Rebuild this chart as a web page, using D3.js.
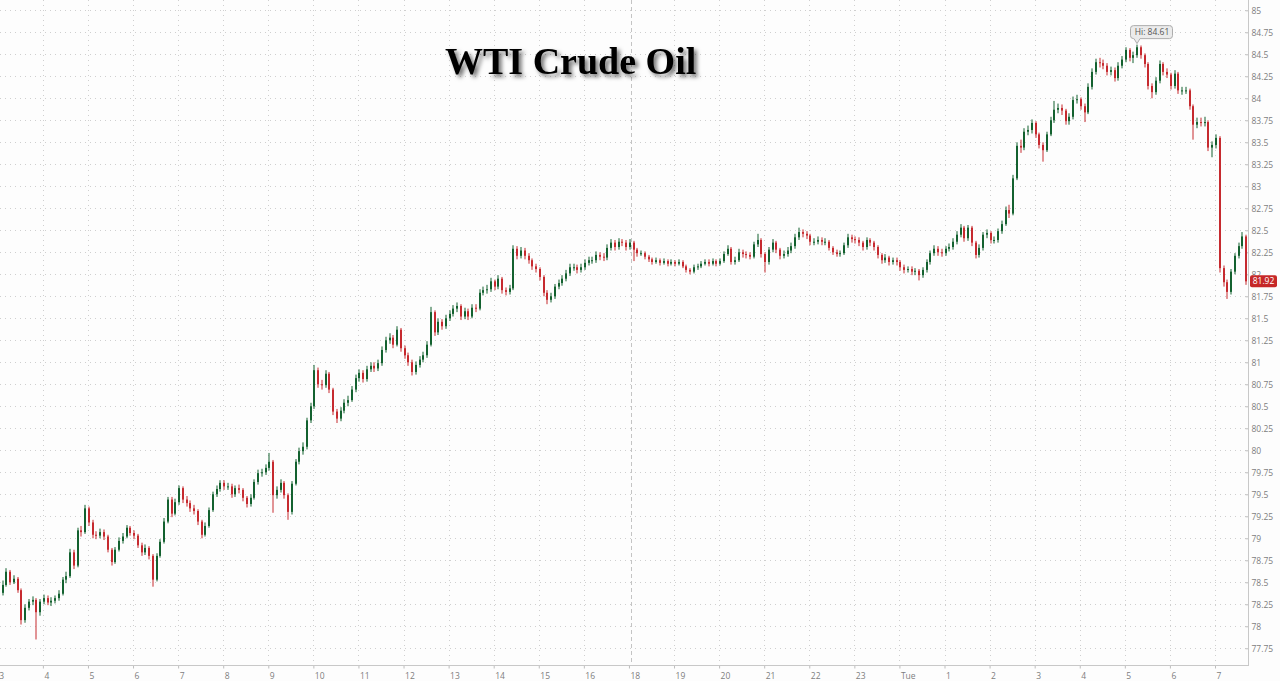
<!DOCTYPE html>
<html><head><meta charset="utf-8">
<script src="https://cdn.jsdelivr.net/npm/d3@7/dist/d3.min.js"></script>
<style>html,body{margin:0;padding:0;background:#fdfdfd;overflow:hidden}</style>
</head><body><svg id="c" width="1280" height="681"></svg>
<script>
// ---- data ----
const title = "WTI Crude Oil";
const xTickLabels = ["3","4","5","6","7","8","9","10","11","12","13","14","15","16","18","19","20","21","22","23","Tue","1","2","3","4","5","6","7"];
const sessionBreakLabel = "18";
const yTicks = [77.75,78,78.25,78.5,78.75,79,79.25,79.5,79.75,80,80.25,80.5,80.75,81,81.25,81.5,81.75,82,82.25,82.5,82.75,83,83.25,83.5,83.75,84,84.25,84.5,84.75,85];
const candlesPerHour = 12; // 5-minute candles
const firstOpen = 78.38;
const closes = [
78.47,78.62,78.50,78.54,78.41,78.07,78.21,78.28,78.30,78.16,78.28,78.32,
78.27,78.29,78.32,78.37,78.53,78.57,78.84,78.69,79.09,79.07,79.34,79.18,
79.04,79.03,79.07,79.02,78.87,78.73,78.87,78.97,79.02,79.12,79.06,79.03,
78.92,78.84,78.89,78.80,78.53,78.80,78.96,79.19,79.44,79.28,79.41,79.57,
79.44,79.40,79.34,79.31,79.19,79.04,79.14,79.32,79.50,79.56,79.63,79.59,
79.59,79.50,79.57,79.55,79.46,79.39,79.46,79.64,79.74,79.75,79.80,79.87,
79.49,79.55,79.63,79.49,79.30,79.62,79.87,79.99,80.04,80.34,80.50,80.91,
80.75,80.74,80.87,80.69,80.44,80.36,80.45,80.54,80.57,80.69,80.82,80.88,
80.81,80.92,80.96,80.93,80.99,81.14,81.25,81.28,81.20,81.37,81.16,81.08,
81.00,80.89,80.97,81.03,81.08,81.20,81.57,81.34,81.46,81.41,81.50,81.55,
81.61,81.64,81.52,81.58,81.52,81.62,81.61,81.79,81.82,81.83,81.92,81.86,
81.95,81.82,81.80,81.84,82.29,82.21,82.27,82.21,82.16,82.09,82.06,81.97,
81.79,81.71,81.75,81.86,81.90,81.95,82.01,82.08,82.08,82.05,82.08,82.13,
82.16,82.16,82.22,82.20,82.19,82.30,82.36,82.31,82.37,82.36,82.31,82.36,
82.28,82.24,82.24,82.20,82.17,82.14,82.16,82.13,82.15,82.12,82.14,82.12,
82.14,82.09,82.05,82.03,82.08,82.09,82.12,82.14,82.12,82.15,82.12,82.15,
82.23,82.29,82.14,82.16,82.25,82.23,82.22,82.20,82.34,82.39,82.23,82.14,
82.28,82.36,82.28,82.21,82.23,82.27,82.32,82.42,82.48,82.46,82.44,82.37,
82.37,82.39,82.37,82.37,82.30,82.25,82.23,82.24,82.33,82.42,82.40,82.39,
82.36,82.31,82.39,82.36,82.31,82.22,82.16,82.19,82.14,82.16,82.14,82.08,
82.05,82.06,82.03,82.04,81.99,82.05,82.14,82.24,82.29,82.25,82.24,82.29,
82.31,82.37,82.45,82.53,82.41,82.53,82.36,82.22,82.30,82.45,82.47,82.39,
82.39,82.49,82.57,82.73,82.69,83.09,83.46,83.44,83.62,83.64,83.72,83.59,
83.47,83.41,83.59,83.75,83.87,83.89,83.86,83.74,83.79,83.98,83.99,83.91,
83.84,84.13,84.30,84.41,84.40,84.37,84.30,84.32,84.23,84.37,84.44,84.55,
84.46,84.49,84.58,84.49,84.39,84.14,84.07,84.20,84.39,84.30,84.27,84.14,
84.28,84.09,84.09,84.09,83.91,83.70,83.73,83.72,83.73,83.44,83.47,83.55,
82.07,81.91,81.80,82.03,82.21,82.32,82.43,81.92
];
const highs = [
78.52,78.66,78.64,78.58,78.56,78.43,78.25,78.31,78.34,78.32,78.31,78.36,
78.35,78.33,78.35,78.41,78.56,78.62,78.88,78.87,79.12,79.14,79.38,79.36,
79.21,79.08,79.11,79.10,79.04,78.89,78.90,79.01,79.06,79.15,79.14,79.09,
79.05,78.95,78.93,78.91,78.82,78.83,78.99,79.23,79.47,79.47,79.45,79.60,
79.59,79.48,79.43,79.38,79.33,79.21,79.18,79.35,79.53,79.60,79.66,79.66,
79.63,79.62,79.60,79.61,79.57,79.48,79.50,79.67,79.78,79.79,79.84,79.97,
79.89,79.59,79.67,79.65,79.51,79.65,79.90,80.03,80.09,80.37,80.54,80.97,
80.94,80.80,80.91,80.89,80.71,80.47,80.49,80.58,80.62,80.73,80.86,80.92,
80.91,80.96,81.00,81.00,81.03,81.18,81.29,81.33,81.31,81.41,81.39,81.19,
81.11,81.03,81.01,81.07,81.12,81.24,81.63,81.59,81.50,81.49,81.54,81.59,
81.65,81.68,81.66,81.62,81.61,81.66,81.66,81.83,81.86,81.88,81.96,81.94,
81.99,81.97,81.85,81.88,82.33,82.32,82.31,82.30,82.24,82.18,82.12,82.08,
81.99,81.82,81.79,81.89,81.94,81.99,82.05,82.12,82.12,82.11,82.12,82.17,
82.20,82.20,82.26,82.25,82.24,82.34,82.40,82.39,82.41,82.40,82.39,82.40,
82.38,82.30,82.27,82.26,82.22,82.19,82.19,82.18,82.18,82.17,82.17,82.16,
82.17,82.16,82.11,82.07,82.11,82.12,82.15,82.17,82.17,82.18,82.17,82.18,
82.26,82.33,82.31,82.20,82.29,82.28,82.26,82.25,82.37,82.46,82.41,82.25,
82.31,82.40,82.38,82.30,82.27,82.31,82.36,82.46,82.53,82.51,82.49,82.46,
82.41,82.43,82.42,82.41,82.39,82.32,82.28,82.27,82.36,82.46,82.45,82.43,
82.42,82.38,82.42,82.41,82.38,82.33,82.24,82.23,82.21,82.19,82.19,82.16,
82.11,82.09,82.09,82.07,82.06,82.08,82.17,82.27,82.33,82.32,82.29,82.32,
82.35,82.41,82.49,82.57,82.55,82.56,82.55,82.38,82.34,82.48,82.51,82.49,
82.43,82.52,82.61,82.77,82.79,83.13,83.50,83.53,83.66,83.69,83.76,83.74,
83.61,83.50,83.62,83.79,83.97,83.94,83.93,83.88,83.83,84.02,84.04,84.01,
83.94,84.17,84.34,84.45,84.46,84.44,84.40,84.36,84.35,84.41,84.48,84.58,
84.57,84.53,84.61,84.60,84.51,84.41,84.17,84.24,84.43,84.41,84.34,84.29,
84.32,84.30,84.13,84.13,84.11,83.93,83.78,83.78,83.79,83.75,83.51,83.59,
83.57,82.10,81.94,82.06,82.24,82.36,82.48,82.45
];
const lows = [
78.35,78.45,78.47,78.48,78.38,78.02,78.04,78.18,78.24,77.85,78.12,78.25,
78.24,78.23,78.26,78.29,78.35,78.49,78.55,78.65,78.67,79.02,79.05,79.14,
79.00,78.99,79.00,78.98,78.84,78.69,78.71,78.85,78.94,79.00,79.03,78.99,
78.89,78.80,78.81,78.76,78.45,78.51,78.78,78.94,79.17,79.24,79.26,79.38,
79.40,79.36,79.30,79.27,79.15,79.00,79.02,79.12,79.30,79.47,79.53,79.55,
79.55,79.46,79.47,79.51,79.42,79.35,79.36,79.44,79.61,79.70,79.72,79.77,
79.29,79.45,79.52,79.45,79.21,79.27,79.60,79.84,79.95,80.01,80.31,80.47,
80.71,80.69,80.71,80.65,80.40,80.31,80.33,80.42,80.50,80.55,80.66,80.78,
80.77,80.78,80.89,80.89,80.90,80.96,81.11,81.21,81.16,81.18,81.12,81.04,
80.96,80.85,80.86,80.94,81.00,81.05,81.18,81.30,81.31,81.37,81.38,81.47,
81.52,81.57,81.48,81.49,81.48,81.50,81.57,81.59,81.76,81.78,81.80,81.82,
81.83,81.78,81.76,81.77,81.82,82.17,82.18,82.17,82.12,82.05,82.02,81.93,
81.75,81.66,81.68,81.72,81.83,81.87,81.92,81.98,82.04,82.01,82.02,82.05,
82.10,82.12,82.13,82.16,82.15,82.16,82.27,82.27,82.28,82.32,82.27,82.28,
82.15,82.20,82.21,82.17,82.14,82.11,82.12,82.10,82.11,82.09,82.10,82.09,
82.10,82.07,82.02,82.00,82.01,82.05,82.07,82.10,82.09,82.10,82.09,82.10,
82.13,82.21,82.11,82.11,82.14,82.19,82.18,82.17,82.18,82.31,82.19,82.02,
82.11,82.25,82.24,82.17,82.18,82.20,82.24,82.29,82.39,82.42,82.40,82.33,
82.33,82.34,82.33,82.33,82.27,82.22,82.20,82.20,82.22,82.30,82.36,82.35,
82.32,82.27,82.28,82.32,82.27,82.18,82.12,82.13,82.10,82.11,82.10,82.04,
82.01,82.02,81.99,81.99,81.93,81.96,82.02,82.11,82.21,82.21,82.20,82.21,
82.26,82.28,82.34,82.42,82.37,82.38,82.32,82.18,82.19,82.27,82.41,82.35,
82.35,82.36,82.46,82.55,82.64,82.67,83.07,83.38,83.41,83.58,83.60,83.55,
83.43,83.28,83.39,83.57,83.72,83.83,83.81,83.70,83.70,83.76,83.94,83.87,
83.73,83.82,84.10,84.27,84.35,84.33,84.26,84.26,84.19,84.20,84.34,84.41,
84.42,84.40,84.46,84.45,84.35,84.10,84.00,84.04,84.17,84.26,84.23,84.10,
84.11,84.05,84.04,84.05,83.87,83.53,83.66,83.68,83.68,83.40,83.33,83.43,
82.02,81.86,81.72,81.77,82.00,82.18,82.29,81.88
];

// ---- layout ----
const W = 1280, H = 681;
const plotRight = 1248, plotBottom = 665;
const upColor = "#13612f", downColor = "#c62a2f";
const axisFont = "'Open Sans', 'Noto Sans', sans-serif";

const svg = d3.select("#c");
svg.append("rect").attr("width", W).attr("height", H).attr("fill", "#fdfdfd");

const x = d3.scaleLinear().domain([0, xTickLabels.length - 1]).range([-2.2, 1215]);
const y = d3.scaleLinear().domain([77.56, 85.117]).range([plotBottom, 0]);

const candles = closes.map((c, i) => ({
  t: (i + 1) / candlesPerHour,
  o: i === 0 ? firstOpen : closes[i - 1],
  c: c, h: highs[i], l: lows[i]
}));

// grid
const grid = svg.append("g");
grid.selectAll("line.h").data(yTicks).join("line")
  .attr("x1", 0).attr("x2", plotRight)
  .attr("y1", d => Math.round(y(d)) + 0.5).attr("y2", d => Math.round(y(d)) + 0.5)
  .attr("stroke", "#cfcfcf").attr("stroke-dasharray", "1,4");
const xTickIdx = xTickLabels.map((d, i) => i);
const brk = xTickLabels.indexOf(sessionBreakLabel);
grid.selectAll("line.v").data(xTickIdx.filter(i => i !== brk)).join("line")
  .attr("x1", d => Math.round(x(d)) + 0.5).attr("x2", d => Math.round(x(d)) + 0.5)
  .attr("y1", 0).attr("y2", plotBottom)
  .attr("stroke", "#cfcfcf").attr("stroke-dasharray", "1,4");
// session break dashed line
svg.append("line")
  .attr("x1", Math.round(x(brk)) + 2.5).attr("x2", Math.round(x(brk)) + 2.5)
  .attr("y1", 0).attr("y2", plotBottom)
  .attr("stroke", "#c4c4c4").attr("stroke-dasharray", "4,3");

// axes
const yAxis = d3.axisRight(y).tickValues(yTicks).tickSize(-3).tickPadding(3).tickFormat(d => String(d));
const gy = svg.append("g").attr("transform", `translate(${plotRight + 0.5},0)`).call(yAxis);
gy.select(".domain").remove();
gy.selectAll(".tick line").attr("stroke", "#bdbdbd");
gy.selectAll(".tick text").attr("fill", "#7d7d7d").style("font-family", axisFont).style("font-size", "8.5px");
svg.append("line").attr("x1", plotRight + 0.5).attr("x2", plotRight + 0.5).attr("y1", 0).attr("y2", plotBottom + 1)
  .attr("stroke", "#c8c8c8");

const xAxis = d3.axisBottom(x).tickValues(xTickIdx).tickSize(3).tickPadding(4).tickFormat(i => xTickLabels[i]);
const gx = svg.append("g").attr("transform", `translate(0,${plotBottom + 0.5})`).call(xAxis);
gx.select(".domain").remove();
gx.selectAll(".tick line").attr("stroke", "#bdbdbd");
gx.selectAll(".tick text").attr("fill", "#7d7d7d").attr("text-anchor", "start").attr("x", 1)
  .style("font-family", axisFont).style("font-size", "8.5px");
svg.append("line").attr("x1", 0).attr("x2", plotRight + 1).attr("y1", plotBottom + 0.5).attr("y2", plotBottom + 0.5)
  .attr("stroke", "#c8c8c8");

// candles
svg.append("clipPath").attr("id", "clip").append("rect").attr("x", 0).attr("y", 0).attr("width", plotRight).attr("height", plotBottom);
const cg = svg.append("g").attr("clip-path", "url(#clip)");
const col = d => d.c >= d.o ? upColor : downColor;
cg.selectAll("line.w").data(candles).join("line")
  .attr("x1", d => Math.round(x(d.t)) + 1).attr("x2", d => Math.round(x(d.t)) + 1)
  .attr("y1", d => y(d.h)).attr("y2", d => y(d.l))
  .attr("stroke", col).attr("stroke-width", 1);
cg.selectAll("rect.b").data(candles).join("rect")
  .attr("x", d => Math.round(x(d.t))).attr("width", 2)
  .attr("y", d => y(Math.max(d.o, d.c)))
  .attr("height", d => Math.max(1, Math.abs(y(d.o) - y(d.c))))
  .attr("fill", col);

// Hi label
const hiIdx = d3.maxIndex(highs);
const hiVal = highs[hiIdx];
const px = Math.round(x(candles[hiIdx].t)) + 1, py = y(hiVal);
const hg = svg.append("g");
const bx = px - 7, bw = 43, bh = 13, by = py - 6.5 - bh;
hg.append("path")
  .attr("d", `M${bx + 3.5},${by + 0.5} h${bw - 7} a3,3 0 0 1 3,3 v${bh - 6} a3,3 0 0 1 -3,3 H${px + 3} L${px},${py - 1} L${px - 3},${by + bh + 0.5} H${bx + 3.5} a3,3 0 0 1 -3,-3 v${-(bh - 6)} a3,3 0 0 1 3,-3 z`)
  .attr("fill", "#ebebeb").attr("stroke", "#adadad").attr("stroke-width", 1);
hg.append("text").attr("x", bx + bw / 2 + 0.5).attr("y", by + bh / 2 + 1)
  .attr("text-anchor", "middle").attr("dominant-baseline", "middle")
  .attr("fill", "#555").style("font-family", axisFont).style("font-size", "8.5px")
  .text("Hi: " + hiVal.toFixed(2));

// last price label
const last = closes[closes.length - 1];
const ly = y(last);
svg.append("rect").attr("x", 1250).attr("y", ly - 6).attr("width", 27).attr("height", 12).attr("rx", 2)
  .attr("fill", "#c62828");
svg.append("text").attr("x", 1263.5).attr("y", ly + 0.5).attr("text-anchor", "middle").attr("dominant-baseline", "middle")
  .attr("fill", "#fff").style("font-family", axisFont).style("font-size", "8.5px").text(last.toFixed(2));

// title with shadow
const defs = svg.append("defs");
const f = defs.append("filter").attr("id", "sh").attr("x", "-10%").attr("y", "-30%").attr("width", "130%").attr("height", "170%");
f.append("feDropShadow").attr("dx", 3).attr("dy", 3).attr("stdDeviation", 2).attr("flood-color", "#000").attr("flood-opacity", 0.55);
svg.append("text").attr("x", 445).attr("y", 74)
  .attr("filter", "url(#sh)")
  .style("font-family", "'Liberation Serif', 'Times New Roman', serif").style("font-weight", "bold").style("font-size", "38px")
  .attr("fill", "#000").text(title);
</script>
</body></html>
